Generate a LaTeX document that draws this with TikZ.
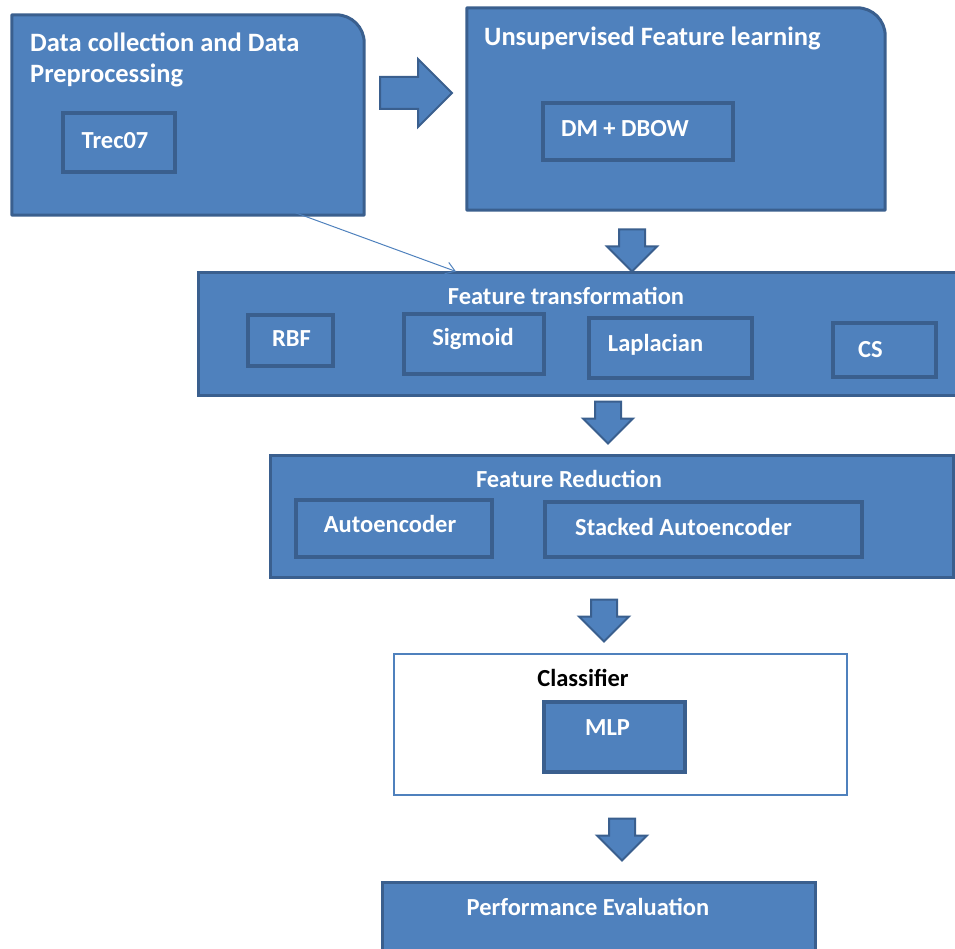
\documentclass[tikz,border=0pt]{standalone}
\usepackage{fontspec}
\setmainfont{Carlito}
\definecolor{boxfill}{HTML}{4F81BD}
\definecolor{boxline}{HTML}{3A5F8E}
\usetikzlibrary{arrows.meta,shapes.arrows,positioning}
\tikzset{
  stage_box/.style={draw=boxline,fill=boxfill,line width=3pt,inner sep=0pt},
  ghost_box/.style={inner sep=0pt},
  item_box/.style={draw=boxline,fill=boxfill,line width=4.5pt,inner sep=0pt},
  item_txt/.style={inner sep=0pt,font=\fontsize{24.5}{29}\selectfont\bfseries\color{white}},
  stage_title/.style={inner sep=0pt,align=left,
    font=\fontsize{24.5}{31}\selectfont\bfseries\color{white}},
  big_title/.style={stage_title,font=\fontsize{26.5}{31}\selectfont\bfseries\color{white}},
  block_arr/.style={single arrow,draw=boxline,fill=boxfill,line width=2pt,
    single arrow tip angle=90,inner xsep=0pt},
  down_arr/.style={block_arr,rotate=-90,minimum height=42pt,minimum width=48pt,
    inner ysep=12pt,single arrow head extend=12pt},
  thin_arr/.style={-{Straight Barb[length=9pt,width=12pt]},draw=boxfill,line width=1pt},
}

\begin{document}
\begin{tikzpicture}[x=1pt,y=1pt]
  \useasboundingbox (0,0) rectangle (955,-949);

  % two top stages, only the upper right corner is rounded
  \node[ghost_box,minimum width=352pt,minimum height=200pt] (dc) at (188,-115) {};
  \filldraw[draw=boxline,fill=boxfill,line width=3pt,line join=round]
    (dc.south west) -- (dc.north west) -- ([xshift=-28pt]dc.north east)
    arc[start angle=90,end angle=0,radius=28pt] -- (dc.south east) -- cycle;
  \node[big_title,anchor=north west] (dc_title) at (30,-33) {Data collection and Data\\Preprocessing};
  \node[item_box,minimum width=112pt,minimum height=59pt,
    label={[item_txt,xshift=-4pt,yshift=2pt]center:Trec07}] (trec) at (119,-142.5) {};

  \node[ghost_box,minimum width=418pt,minimum height=202pt] (ufl) at (676,-109) {};
  \filldraw[draw=boxline,fill=boxfill,line width=3pt,line join=round]
    (ufl.south west) -- (ufl.north west) -- ([xshift=-28pt]ufl.north east)
    arc[start angle=90,end angle=0,radius=28pt] -- (ufl.south east) -- cycle;
  \node[big_title,anchor=base west] (ufl_title) at (484,-46) {Unsupervised Feature learning};
  \node[item_box,minimum width=190pt,minimum height=57pt,
    label={[item_txt,xshift=-13pt,yshift=3pt]center:DM + DBOW}] (dmdbow) at (638,-131.5) {};

  \node[block_arr,minimum height=72pt,minimum width=66pt,inner ysep=15pt,
    single arrow head extend=18pt] (a0) at (408,-93) {};

  % kernels
  \node[stage_box,minimum width=762pt,minimum height=122pt] (ft) at (579,-334) {};
  \node[stage_title,anchor=base] (ft_title) at (566,-305) {Feature transformation};
  \node[item_box,minimum width=85pt,minimum height=51pt,
    label={[item_txt,xshift=1pt,yshift=2pt]center:RBF}] (rbf) at (290.5,-340.5) {};
  \node[item_box,minimum width=140pt,minimum height=60pt,
    label={[item_txt,xshift=-1pt,yshift=5pt]center:Sigmoid}] (sig) at (474,-344) {};
  \node[item_box,minimum width=163pt,minimum height=60pt,
    label={[item_txt,xshift=-15pt,yshift=3pt]center:Laplacian}] (lap) at (670.5,-348) {};
  \node[item_box,minimum width=103pt,minimum height=54pt,
    label={[item_txt,xshift=-14pt]center:CS}] (cs) at (884.5,-350) {};

  % reduction
  \node[stage_box,minimum width=683pt,minimum height=122pt] (fr) at (611.5,-516) {};
  \node[stage_title,anchor=base] (fr_title) at (569,-487) {Feature Reduction};
  \node[item_box,minimum width=196pt,minimum height=57pt,
    label={[item_txt,xshift=-4pt,yshift=5pt]center:Autoencoder}] (ae) at (394,-528.5) {};
  \node[item_box,minimum width=317pt,minimum height=55pt,
    label={[item_txt,xshift=-20pt,yshift=3pt]center:Stacked Autoencoder}] (sae) at (703.5,-529.5) {};

  % classifier
  \node[draw=boxfill,line width=1.2pt,fill=white,minimum width=453pt,minimum height=141pt] (cls) at (620.5,-724.5) {};
  \node[stage_title,text=black,anchor=base] (cls_title) at (583,-686) {Classifier};
  \node[item_box,minimum width=141pt,minimum height=70pt,
    label={[item_txt,xshift=-7pt,yshift=9pt]center:MLP}] (mlp) at (614.5,-737) {};

  \node[stage_box,minimum width=433pt,minimum height=80pt] (pe) at (598.5,-922) {};
  \node[stage_title,anchor=base] (pe_title) at (588,-915) {Performance Evaluation};

  \node[down_arr] (a1) at (632,-244) {};
  \node[down_arr] (a2) at (608,-416) {};
  \node[down_arr] (a3) at (604,-614) {};
  \node[down_arr] (a4) at (622,-833) {};

  \draw[thin_arr] ([xshift=95pt,yshift=7pt]dc.south) -- ([xshift=-123pt]ft.north);
\end{tikzpicture}
\end{document}
